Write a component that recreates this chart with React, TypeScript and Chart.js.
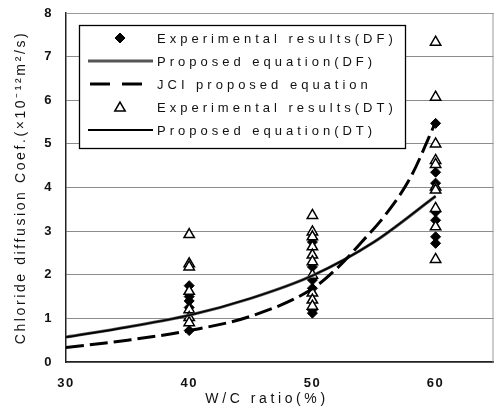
import { useEffect, useRef } from 'react';
import { Chart, registerables } from 'chart.js';

Chart.register(...registerables);

// W/C ratio categories (%)
const wcRatios = [40, 50, 60];

// Experimental results (DF) – filled diamonds
const dfAt40 = [1.75, 1.5, 1.4, 1.25, 0.72];
const dfAt50 = [2.75, 2.18, 1.88, 1.69, 1.19, 1.12];
const dfAt60 = [5.47, 4.35, 4.1, 3.44, 3.25, 2.87, 2.72];

// Experimental results (DT) – open triangles
const dtAt40 = [2.92, 2.25, 2.18, 1.62, 1.2, 1.02, 0.9];
const dtAt50 = [3.36, 2.98, 2.87, 2.64, 2.45, 2.3, 1.99, 1.58, 1.42, 1.28];
const dtAt60 = [7.33, 6.07, 5.0, 4.62, 4.53, 4.01, 3.94, 3.52, 3.1, 2.35];

// Proposed equations
const curveX = [30, 35, 40, 45, 50, 55, 60];
const proposedDF = [0.57, 0.8, 1.07, 1.46, 1.98, 2.75, 3.8];
const proposedDT = [0.57, 0.8, 1.07, 1.46, 1.98, 2.75, 3.8];

// JCI proposed equation
const jciX = [30, 35, 40, 45, 50, 52, 54, 56, 58, 60];
const jciY = [0.33, 0.5, 0.72, 1.05, 1.68, 2.15, 2.75, 3.4, 4.25, 5.5];

const xTicks = [30, 40, 50, 60];
const yMin = 0;
const yMax = 8;
const xMin = 30;
const xMax = 64.7;

const legendLabels = [
  'Experimental results(DF)',
  'Proposed equation(DF)',
  'JCI proposed equation',
  'Experimental results(DT)',
  'Proposed equation(DT)',
];
const xTitle = 'W/C ratio(%)';
const yTitle = 'Chloride diffusion Coef.(×10⁻¹²m²/s)';

const FONT = '"Liberation Sans", Arial, sans-serif';

function toPoints(xs: number[], groups: number[][]) {
  const out: { x: number; y: number }[] = [];
  groups.forEach((g, i) => g.forEach((v) => out.push({ x: xs[i], y: v })));
  return out;
}
function zip(xs: number[], ys: number[]) {
  return xs.map((x, i) => ({ x, y: ys[i] }));
}

function drawDiamond(ctx: CanvasRenderingContext2D, x: number, y: number, r: number) {
  ctx.beginPath();
  ctx.moveTo(x - r, y);
  ctx.lineTo(x, y - r);
  ctx.lineTo(x + r, y);
  ctx.lineTo(x, y + r);
  ctx.closePath();
  ctx.fillStyle = '#000';
  ctx.fill();
  ctx.strokeStyle = '#000';
  ctx.lineWidth = 1;
  ctx.stroke();
}
function drawTriangle(ctx: CanvasRenderingContext2D, x: number, y: number, r: number) {
  ctx.beginPath();
  for (let k = 0; k < 3; k++) {
    const a = (k * 2 * Math.PI) / 3;
    const px = x + Math.sin(a) * r;
    const py = y - Math.cos(a) * r;
    if (k === 0) ctx.moveTo(px, py);
    else ctx.lineTo(px, py);
  }
  ctx.closePath();
  ctx.fillStyle = '#fff';
  ctx.fill();
  ctx.strokeStyle = '#000';
  ctx.lineWidth = 1.5;
  ctx.stroke();
}

const decorPlugin = {
  id: 'decor',
  beforeDraw(chart: any) {
    chart.ctx.letterSpacing = '1.5px';
  },
  beforeDatasetsDraw(chart: any) {
    const { ctx, chartArea } = chart;
    ctx.save();
    ctx.strokeStyle = '#999';
    ctx.lineWidth = 1;
    ctx.beginPath();
    ctx.moveTo(chartArea.left, chartArea.top + 0.5);
    ctx.lineTo(chartArea.right, chartArea.top + 0.5);
    ctx.moveTo(chartArea.right - 0.5, chartArea.top);
    ctx.lineTo(chartArea.right - 0.5, chartArea.bottom);
    ctx.stroke();
    ctx.restore();
  },
  afterDraw(chart: any) {
    const { ctx, chartArea } = chart;
    ctx.save();
    // axis titles
    ctx.fillStyle = '#111';
    ctx.font = `14px ${FONT}`;
    ctx.letterSpacing = '3.6px';
    ctx.textAlign = 'center';
    ctx.textBaseline = 'middle';
    ctx.fillText(xTitle, chartArea.left + 201, chartArea.bottom + 37);
    ctx.letterSpacing = '2.6px';
    ctx.save();
    ctx.translate(21, (chartArea.top + chartArea.bottom) / 2);
    ctx.rotate(-Math.PI / 2);
    ctx.fillText(yTitle, 0, 0);
    ctx.restore();

    // legend
    const lx = chartArea.left + 13;
    const ly = chartArea.top + 12;
    const lw = 326;
    const lh = 123;
    ctx.fillStyle = '#fff';
    ctx.fillRect(lx, ly, lw, lh);
    ctx.strokeStyle = '#000';
    ctx.lineWidth = 1.3;
    ctx.setLineDash([]);
    ctx.strokeRect(lx + 0.5, ly + 0.5, lw, lh);

    const symL = lx + 9;
    const symR = lx + 74;
    const symC = (symL + symR) / 2 - 0.5;
    ctx.font = `13px ${FONT}`;
    ctx.letterSpacing = '4px';
    ctx.textAlign = 'left';
    legendLabels.forEach((label, i) => {
      const y = ly + 13 + i * 23;
      if (i === 0) drawDiamond(ctx, symC, y, 5);
      else if (i === 3) drawTriangle(ctx, symC, y + 1, 6);
      else {
        ctx.beginPath();
        if (i === 1) {
          ctx.strokeStyle = '#555';
          ctx.lineWidth = 3;
          ctx.setLineDash([]);
        } else if (i === 2) {
          ctx.strokeStyle = '#000';
          ctx.lineWidth = 3;
          ctx.setLineDash([20, 12]);
        } else {
          ctx.strokeStyle = '#000';
          ctx.lineWidth = 2;
          ctx.setLineDash([]);
        }
        ctx.moveTo(symL + (i === 2 ? 2 : 0), y);
        ctx.lineTo(symR, y);
        ctx.stroke();
        ctx.setLineDash([]);
      }
      ctx.fillStyle = '#111';
      ctx.fillText(label, lx + 78, y + 1);
    });
    ctx.restore();
  },
};

export default function App() {
  const ref = useRef<HTMLCanvasElement>(null);

  useEffect(() => {
    if (!ref.current) return;
    const chart = new Chart(ref.current, {
      type: 'scatter',
      data: {
        datasets: [
          {
            label: legendLabels[0],
            data: toPoints(wcRatios, [dfAt40, dfAt50, dfAt60]),
            pointStyle: 'rectRot',
            pointRadius: 5,
            backgroundColor: '#000',
            borderColor: '#000',
            borderWidth: 1,
            showLine: false,
            order: 3,
          },
          {
            label: legendLabels[1],
            data: zip(curveX, proposedDF),
            showLine: true,
            pointRadius: 0,
            borderColor: '#555',
            borderWidth: 3,
            cubicInterpolationMode: 'monotone',
            order: 1,
          },
          {
            label: legendLabels[2],
            data: zip(jciX, jciY),
            showLine: true,
            pointRadius: 0,
            borderColor: '#000',
            borderWidth: 3,
            borderDash: [18, 6],
            cubicInterpolationMode: 'monotone',
            order: 0,
          },
          {
            label: legendLabels[3],
            data: toPoints(wcRatios, [dtAt40, dtAt50, dtAt60]),
            pointStyle: 'triangle',
            pointRadius: 6,
            backgroundColor: '#fff',
            borderColor: '#000',
            borderWidth: 1.5,
            showLine: false,
            order: 2,
          },
          {
            label: legendLabels[4],
            data: zip(curveX, proposedDT),
            showLine: true,
            pointRadius: 0,
            borderColor: '#000',
            borderWidth: 1.6,
            cubicInterpolationMode: 'monotone',
            order: 0,
          },
        ],
      },
      options: {
        responsive: false,
        animation: false,
        layout: { padding: { top: 13, right: 2, left: 0, bottom: 0 } },
        plugins: {
          legend: { display: false },
          tooltip: { enabled: false },
        },
        scales: {
          x: {
            type: 'linear',
            min: xMin,
            max: xMax,
            afterBuildTicks: (scale: any) => {
              scale.ticks = xTicks.map((v) => ({ value: v }));
            },
            afterFit: (scale: any) => {
              scale.height = 48;
            },
            grid: { display: false, drawTicks: false },
            border: { display: true, color: '#222', width: 1.5 },
            ticks: {
              padding: 14,
              color: '#111',
              font: { family: FONT, size: 13, weight: 'bold' },
              callback: (v: any) => String(v),
            },
          },
          y: {
            min: yMin,
            max: yMax,
            afterFit: (scale: any) => {
              scale.width = 66;
            },
            grid: {
              color: '#8c8c8c',
              lineWidth: 1,
              drawTicks: true,
              tickLength: 13,
              tickColor: 'rgba(0,0,0,0)',
            },
            border: { display: true, color: '#222', width: 1.5 },
            ticks: {
              stepSize: 1,
              padding: 0,
              color: '#111',
              font: { family: FONT, size: 13, weight: 'bold' },
            },
          },
        },
      },
      plugins: [decorPlugin],
    } as any);
    return () => chart.destroy();
  }, []);

  return (
    <div style={{ position: 'fixed', left: 0, top: 0, width: 501, height: 410, background: '#fff' }}>
      <canvas ref={ref} width={501} height={410} style={{ display: 'block' }} />
    </div>
  );
}
